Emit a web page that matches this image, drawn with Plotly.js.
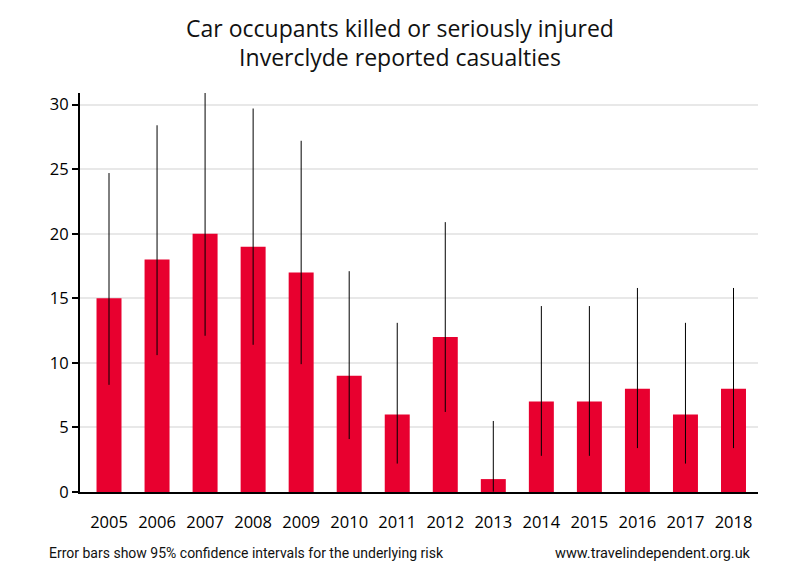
<!DOCTYPE html>
<html>
<head>
<meta charset="utf-8">
<script src="https://cdn.plot.ly/plotly-3.0.1.min.js"></script>
<style>html,body{margin:0;padding:0;background:#fff}#chart{width:800px;height:580px}</style>
</head>
<body>
<div id="chart"></div>
<script>
const years = ['2005','2006','2007','2008','2009','2010','2011','2012','2013','2014','2015','2016','2017','2018'];
const casualties = [15, 18, 20, 19, 17, 9, 6, 12, 1, 7, 7, 8, 6, 8];
const upperCI = [24.7, 28.4, 30.9, 29.7, 27.2, 17.1, 13.1, 20.9, 5.5, 14.4, 14.4, 15.8, 13.1, 15.8];
const lowerCI = [8.3, 10.6, 12.1, 11.4, 9.9, 4.1, 2.2, 6.2, 0.03, 2.8, 2.8, 3.4, 2.2, 3.4];

const errPlus = casualties.map((v, i) => upperCI[i] - v);
const errMinus = casualties.map((v, i) => v - lowerCI[i]);

const trace = {
  type: 'bar',
  x: years,
  y: casualties,
  marker: {color: '#e8002f'},
  error_y: {
    type: 'data',
    symmetric: false,
    array: errPlus,
    arrayminus: errMinus,
    color: '#000',
    thickness: 1,
    width: 0
  },
  hoverinfo: 'x+y'
};

const fontMain = '"Open Sans", "Noto Sans", "DejaVu Sans", sans-serif';
const fontNote = '"Liberation Sans Narrow", "Roboto", "Liberation Sans", sans-serif';

const layout = {
  width: 800,
  height: 580,
  paper_bgcolor: '#fff',
  plot_bgcolor: '#fff',
  margin: {l: 80, r: 42, t: 93, b: 88},
  showlegend: false,
  bargap: 0.48,
  title: {
    text: 'Car occupants killed or seriously injured<br>Inverclyde reported casualties',
    font: {family: fontMain, size: 23, color: '#111'},
    x: 0.5,
    xanchor: 'center',
    y: 0.937,
    yanchor: 'top'
  },
  xaxis: {
    type: 'category',
    range: [-0.604, 13.51],
    showline: true,
    linecolor: '#000',
    linewidth: 2,
    ticks: 'outside',
    ticklen: 14,
    tickcolor: 'rgba(0,0,0,0)',
    tickfont: {family: fontMain, size: 16.5, color: '#000'},
    showgrid: false,
    zeroline: false
  },
  yaxis: {
    range: [0, 30.9],
    tickvals: [0, 5, 10, 15, 20, 25, 30],
    showline: true,
    linecolor: '#000',
    linewidth: 2,
    ticks: 'outside',
    ticklen: 6,
    tickwidth: 2,
    tickcolor: '#000',
    tickfont: {family: fontMain, size: 16.5, color: '#000'},
    showgrid: true,
    gridcolor: '#e8e8e8',
    gridwidth: 2,
    zeroline: false
  },
  annotations: [
    {
      text: 'Error bars show 95% confidence intervals for the underlying risk',
      xref: 'paper', yref: 'paper',
      x: (47 - 80) / 678, y: (580 - 553 - 88) / 399,
      xanchor: 'left', yanchor: 'middle',
      showarrow: false,
      font: {family: fontNote, size: 14, color: '#111'}
    },
    {
      text: 'www.travelindependent.org.uk',
      xref: 'paper', yref: 'paper',
      x: (753 - 80) / 678, y: (580 - 553 - 88) / 399,
      xanchor: 'right', yanchor: 'middle',
      showarrow: false,
      font: {family: fontNote, size: 14.5, color: '#111'}
    }
  ]
};

Plotly.newPlot('chart', [trace], layout, {displayModeBar: false, staticPlot: true});
</script>
</body>
</html>
